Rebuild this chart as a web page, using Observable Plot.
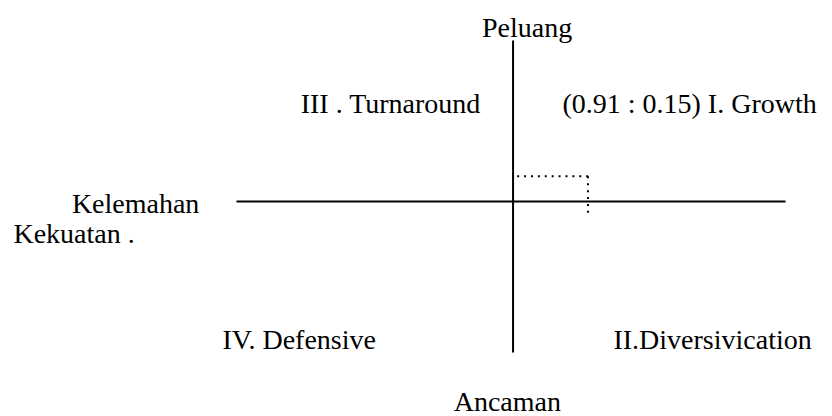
<!DOCTYPE html>
<html>
<head>
<meta charset="utf-8">
<script src="https://cdn.jsdelivr.net/npm/d3@7"></script>
<script src="https://cdn.jsdelivr.net/npm/@observablehq/plot@0.6"></script>
<style>
  html, body { margin: 0; padding: 0; background: #fff; }
  #chart svg { display: block; }
</style>
</head>
<body>
<div id="chart"></div>
<script>
// Axis extents (data units)
const xAxisExtent = [-3.36, 3.31];
const yAxisExtent = [-0.9, 0.96];

// Strategic position point
const pointX = 0.91;
const pointY = 0.15;
// dotted guide ends
const guideH = [0.05, 0.96];   // horizontal dotted guide x-range at y = pointY
const guideV = [0.15, -0.093]; // vertical dotted guide y-range at x = pointX

// Labels
const labelTexts = ["Peluang", "III . Turnaround", "(0.91 : 0.15) I. Growth", "Kelemahan", "Kekuatan .", "IV. Defensive", "II.Diversivication", "Ancaman"];
const labelX = [0.17, -2.58, 0.60, -5.36, -6.07, -3.53, 1.22, -0.07];
const labelY = [0.98, 0.53, 0.53, -0.066, -0.25, -0.88, -0.88, -1.25];
const labelAnchor = ["middle", "start", "start", "start", "start", "start", "start", "middle"];

const labels = labelTexts.map((t, i) => ({text: t, x: labelX[i], y: labelY[i], anchor: labelAnchor[i]}));

const axisLines = [
  {x1: xAxisExtent[0], x2: xAxisExtent[1], y1: 0, y2: 0},
  {x1: 0, x2: 0, y1: yAxisExtent[0], y2: yAxisExtent[1]}
];
const guides = [
  {x1: guideH[0], x2: guideH[1], y1: pointY, y2: pointY},
  {x1: pointX, x2: pointX, y1: guideV[0], y2: guideV[1]}
];

const plot = Plot.plot({
  width: 832,
  height: 416,
  margin: 0,
  x: {type: "linear", domain: xAxisExtent, range: [236, 785], axis: null},
  y: {type: "linear", domain: yAxisExtent, range: [352, 40], axis: null},
  style: {background: "#fff"},
  marks: [
    Plot.link(axisLines, {x1: "x1", x2: "x2", y1: "y1", y2: "y2", stroke: "#000", strokeWidth: 2}),
    Plot.link(guides, {x1: "x1", x2: "x2", y1: "y1", y2: "y2", stroke: "#000", strokeWidth: 2, strokeDasharray: "2,4.9"}),
    ...["start", "middle"].map(a => Plot.text(labels.filter(d => d.anchor === a), {
      x: "x", y: "y", text: "text", textAnchor: a, lineAnchor: "bottom",
      fontSize: 28, fill: "#000", fontFamily: "Liberation Serif"
    }))
  ]
});
document.getElementById("chart").appendChild(plot);
</script>
</body>
</html>
